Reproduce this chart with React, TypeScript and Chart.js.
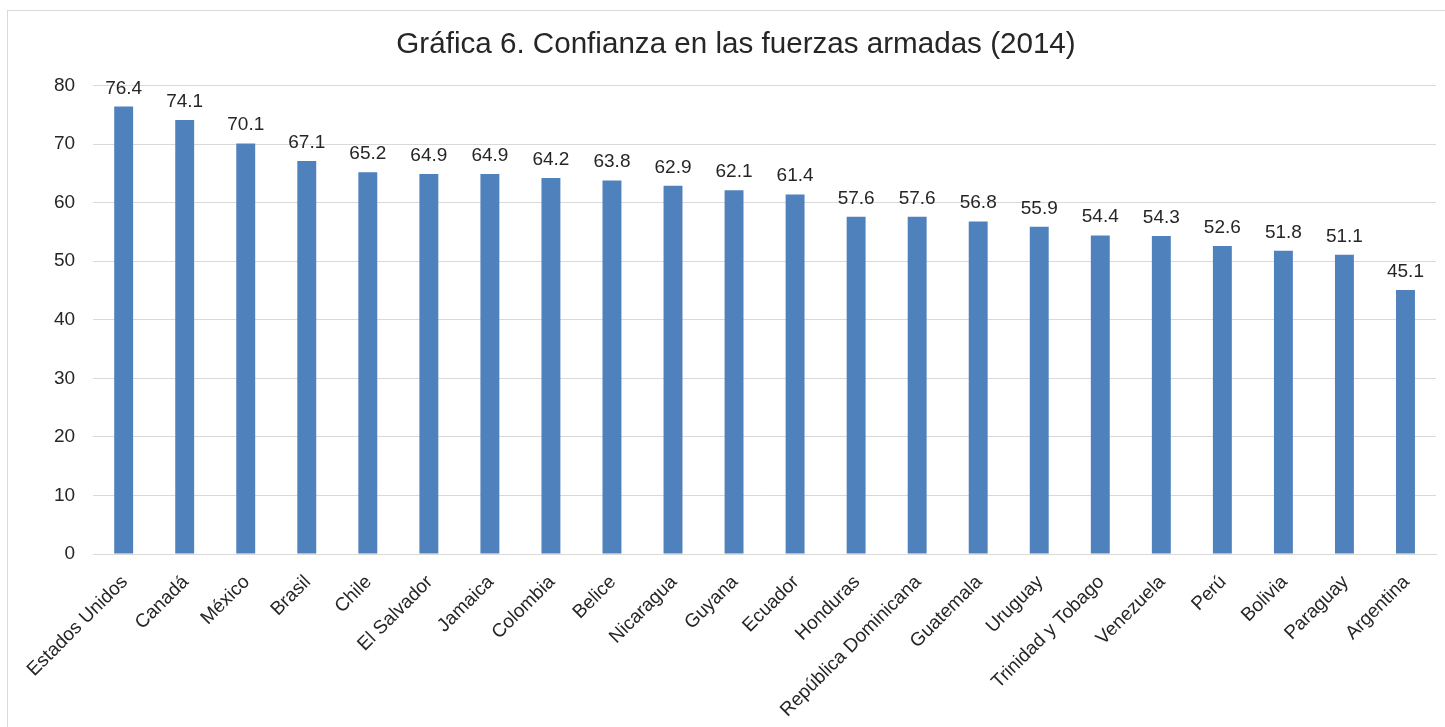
import React, { useEffect, useRef } from "react";
import { Chart, registerables } from "chart.js";

Chart.register(...registerables);

const titleText = "Gráfica 6. Confianza en las fuerzas armadas (2014)";

const countries = [
  "Estados Unidos",
  "Canadá",
  "México",
  "Brasil",
  "Chile",
  "El Salvador",
  "Jamaica",
  "Colombia",
  "Belice",
  "Nicaragua",
  "Guyana",
  "Ecuador",
  "Honduras",
  "República Dominicana",
  "Guatemala",
  "Uruguay",
  "Trinidad y Tobago",
  "Venezuela",
  "Perú",
  "Bolivia",
  "Paraguay",
  "Argentina",
];

const confidence = [
  76.4, 74.1, 70.1, 67.1, 65.2, 64.9, 64.9, 64.2, 63.8, 62.9, 62.1, 61.4,
  57.6, 57.6, 56.8, 55.9, 54.4, 54.3, 52.6, 51.8, 51.1, 45.1,
];

const yMin = 0;
const yMax = 80;
const yStep = 10;

const FONT = "'Liberation Sans', Arial, sans-serif";
const TEXT = "#262626";
const GRID = "#d9d9d9";
const BAR = "#4f81bd";

const frame = {
  id: "frame",
  beforeDraw(chart: any) {
    const ctx = chart.ctx;
    ctx.save();
    ctx.fillStyle = "#ffffff";
    ctx.fillRect(0, 0, chart.width, chart.height);
    ctx.strokeStyle = GRID;
    ctx.lineWidth = 1;
    ctx.strokeRect(7.5, 10.5, chart.width + 20, chart.height + 20);
    ctx.restore();
  },
};

const valueLabels = {
  id: "valueLabels",
  afterDatasetsDraw(chart: any) {
    const ctx = chart.ctx;
    const meta = chart.getDatasetMeta(0);
    const data = chart.data.datasets[0].data as number[];
    ctx.save();
    ctx.font = `19px ${FONT}`;
    ctx.fillStyle = TEXT;
    ctx.textAlign = "center";
    ctx.textBaseline = "alphabetic";
    meta.data.forEach((bar: any, i: number) => {
      ctx.fillText(data[i].toFixed(1), bar.x, bar.y - 13);
    });
    ctx.restore();
  },
};

export default function App() {
  const ref = useRef<HTMLCanvasElement | null>(null);

  useEffect(() => {
    if (!ref.current) return;
    const chart = new Chart(ref.current, {
      type: "bar",
      data: {
        labels: countries,
        datasets: [
          {
            data: confidence,
            backgroundColor: BAR,
            borderWidth: 0,
            categoryPercentage: 1,
            barPercentage: 0.31,
          },
        ],
      },
      options: {
        animation: false,
        responsive: true,
        maintainAspectRatio: false,
        devicePixelRatio: 1,
        layout: { padding: { left: 36, right: 9, top: 10, bottom: 0 } },
        plugins: {
          legend: { display: false },
          tooltip: { enabled: false },
          title: {
            display: true,
            text: titleText,
            color: TEXT,
            font: { family: FONT, size: 29.6, weight: "normal" },
            padding: { top: 17, bottom: 23 },
          },
        },
        scales: {
          x: {
            grid: { display: false, drawTicks: false },
            border: { display: true, color: GRID, width: 1 },
            ticks: {
              color: TEXT,
              font: { family: FONT, size: 19 },
              minRotation: 45,
              maxRotation: 45,
              autoSkip: false,
              padding: 17,
              labelOffset: 1,
            },
            afterFit: (scale: any) => {
              scale.paddingLeft = 0;
              scale.paddingRight = 0;
              scale.height = 173;
            },
          },
          y: {
            min: yMin,
            max: yMax,
            grid: { color: GRID, lineWidth: 1, drawTicks: false },
            border: { display: false },
            ticks: {
              stepSize: yStep,
              color: TEXT,
              font: { family: FONT, size: 19 },
              padding: 18,
            },
          },
        },
      },
      plugins: [frame, valueLabels],
    });
    return () => chart.destroy();
  }, []);

  return (
    <div style={{ position: "fixed", left: 0, top: 0, width: 1445, height: 727 }}>
      <canvas ref={ref} />
    </div>
  );
}
